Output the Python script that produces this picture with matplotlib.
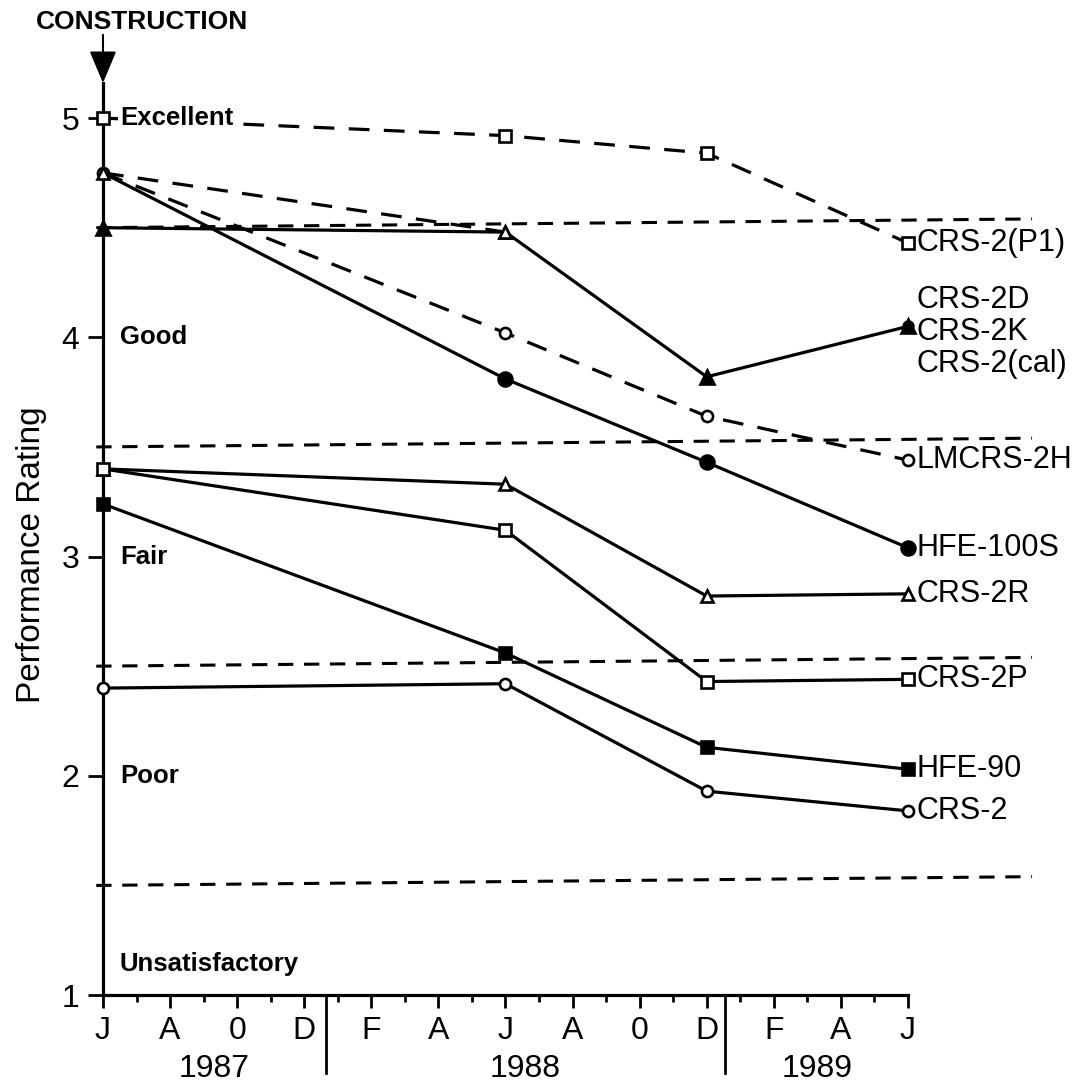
import matplotlib.pyplot as plt
from matplotlib.ticker import FixedLocator, MultipleLocator

plt.rcParams['font.family'] = ['Liberation Sans', 'DejaVu Sans']

# months after June 1987 when the sections were rated
months = [0, 12, 18, 24]

crs2_p1 = [5.00, 4.92, 4.84, 4.43]
crs2k = [4.50, 4.48, 3.82, 4.05]
crs2d_start = [4.75, 4.48]
hfe100s = [4.75, 3.81, 3.43, 3.04]
lmcrs2h = [4.75, 4.02, 3.64, 3.44]
crs2r = [3.40, 3.33, 2.82, 2.83]
crs2p = [3.40, 3.12, 2.43, 2.44]
hfe90 = [3.24, 2.56, 2.13, 2.03]
crs2 = [2.40, 2.42, 1.93, 1.84]

month_ticks = list(range(0, 25, 2))
month_labels = ['J', 'A', '0', 'D', 'F', 'A', 'J', 'A', '0', 'D', 'F', 'A', 'J']
years = ['1987', '1988', '1989']
year_centers = [3.3, 12.6, 21.3]
year_breaks = [6.65, 18.55]

ratings = ['Excellent', 'Good', 'Fair', 'Poor', 'Unsatisfactory']
rating_y = [5.0, 4.0, 3.0, 2.0, 1.14]
boundaries = [4.5, 3.5, 2.5, 1.5]

fig = plt.figure(figsize=(10.84, 10.85), dpi=100)
ax = fig.add_axes([0.095, 0.0829, 0.7426, 0.8406])
ax.set_xlim(0, 24)
ax.set_ylim(1, 5.16)

# rating class boundaries
for b in boundaries:
    ax.plot([-0.2, 27.7], [b, b + 0.04], color='black', lw=2.2, dashes=(5, 3.5),
            clip_on=False, zorder=1)


def curve(y, marker, filled=False, dashed=False, ms=8, every=None, x=months):
    kw = dict(color='black', lw=2.3, marker=marker, markersize=ms,
              markeredgewidth=1.9, markeredgecolor='black',
              markerfacecolor='black' if filled else 'white',
              clip_on=False, zorder=3)
    if dashed:
        kw['dashes'] = (6.5, 4.5)
    if every is not None:
        kw['markevery'] = every
    ax.plot(x, y, **kw)


def tag(text, y, dy=0):
    ax.annotate(text, (24, y), xytext=(6, dy), textcoords='offset points',
                va='center', ha='left', fontsize=22, annotation_clip=False)


curve(crs2_p1, 's', dashed=True, ms=8)
curve(hfe100s, 'o', filled=True, ms=10, every=[1, 2, 3])
curve(lmcrs2h, 'o', dashed=True, ms=8)
curve(crs2d_start, '^', dashed=True, ms=9, x=months[:2])
curve(crs2k, '^', filled=True, ms=10, every=[0, 2, 3])
ax.plot(months[1], crs2k[1], marker='^', ms=9, mfc='white', mec='black',
        mew=1.9, zorder=4)
ax.plot(months[3], crs2k[3], marker='o', ms=8, color='black', zorder=4,
        clip_on=False)
curve(crs2r, '^', ms=9)
curve(crs2p, 's', ms=8)
curve(hfe90, 's', filled=True, ms=9)
curve(crs2, 'o', ms=8)

tag('CRS-2(P1)', crs2_p1[-1])
tag('CRS-2D', crs2k[-1], 19)
tag('CRS-2K', crs2k[-1], -4)
tag('CRS-2(cal)', crs2k[-1], -27)
tag('LMCRS-2H', lmcrs2h[-1])
tag('HFE-100S', hfe100s[-1])
tag('CRS-2R', crs2r[-1])
tag('CRS-2P', crs2p[-1])
tag('HFE-90', hfe90[-1])
tag('CRS-2', crs2[-1])

# rating names along the left axis
for name, y in zip(ratings, rating_y):
    t = ax.text(0.5, y, name, fontsize=18.5, fontweight='bold', ha='left',
                va='center', zorder=5)
    if name == 'Excellent':
        t.set_bbox(dict(facecolor='white', edgecolor='none', pad=1))

# axes styling
for side in ['top', 'right']:
    ax.spines[side].set_visible(False)
for side in ['left', 'bottom']:
    ax.spines[side].set_linewidth(2.3)

ax.set_yticks([1, 2, 3, 4, 5])
ax.set_yticklabels(['1', '2', '3', '4', '5'])
ax.xaxis.set_major_locator(FixedLocator(month_ticks))
ax.set_xticklabels(month_labels)
ax.xaxis.set_minor_locator(MultipleLocator(1))
ax.tick_params(axis='y', direction='out', length=11, width=2,
               labelsize=23, pad=6)
ax.tick_params(axis='x', which='major', direction='out', length=9, width=2,
               labelsize=23, pad=6)
ax.tick_params(axis='x', which='minor', direction='out', length=5, width=2)

# year captions and separators below the month axis
xt = ax.get_xaxis_transform()
for yr, xc in zip(years, year_centers):
    ax.text(xc, -0.081, yr, transform=xt, ha='center', va='center',
            fontsize=23)
for xb in year_breaks:
    ax.plot([xb, xb], [0, -0.0855], transform=xt, color='black', lw=2,
            clip_on=False)

fig.text(32 / 1084, 1 - 555 / 1085, 'Performance Rating', rotation=90,
         ha='center', va='center', fontsize=24)

# construction date marker
ax.annotate('', xy=(0, 5.16), xytext=(0, 5.38),
            arrowprops=dict(arrowstyle='-|>,head_length=1.0,head_width=0.42',
                            mutation_scale=20, color='black', lw=1.5,
                            shrinkA=0, shrinkB=0),
            annotation_clip=False)
fig.text(142 / 1084, 1 - 22 / 1085, 'CONSTRUCTION', ha='center', va='center',
         fontsize=19, fontweight='bold')

fig.savefig('out.png', dpi=100)
